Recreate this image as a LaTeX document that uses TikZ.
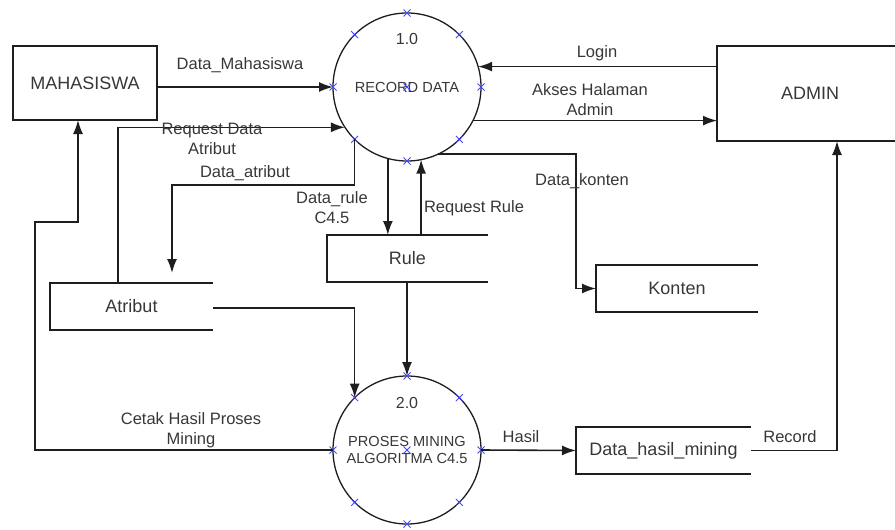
\documentclass[tikz,border=0pt]{standalone}
\usepackage{fontspec}
\setmainfont{Liberation Sans}
\usetikzlibrary{arrows.meta,calc}
\definecolor{ink}{RGB}{30,30,30}
\definecolor{txt}{RGB}{55,55,55}
\definecolor{cpt}{RGB}{70,70,255}
\tikzset{
  flow/.style={line width=1.6pt, draw=ink, -{Latex[length=14pt,width=10pt]}},
  wire/.style={line width=1.6pt, draw=ink},
  entity/.style={draw=ink, line width=1.6pt, rectangle, outer sep=0pt, inner sep=0pt,
    text=txt, font=\fontsize{18}{21}\selectfont},
  store/.style={rectangle, outer sep=0pt, inner sep=0pt, text=txt,
    font=\fontsize{18}{21}\selectfont},
  proc/.style={draw=ink, line width=1.3pt, circle, minimum size=148pt, outer sep=0pt,
    inner sep=0pt, text=txt, align=center, font=\fontsize{14.6}{18}\selectfont},
  flowlabel/.style={text=txt, align=center, inner sep=0pt, font=\fontsize{16.5}{20}\selectfont},
  cpmark/.style={draw=cpt, line width=0.8pt}
}
\newcommand{\cpx}[1]{\draw[cpmark] ($(#1)+(-3.5,-3.5)$) -- ($(#1)+(3.5,3.5)$) ($(#1)+(-3.5,3.5)$) -- ($(#1)+(3.5,-3.5)$);}
\begin{document}
\begin{tikzpicture}[x=1pt,y=-1pt]
\useasboundingbox (0,0) rectangle (895,530);
\clip (0,0) rectangle (895,530);

% external entities
\node[entity, minimum width=144pt, minimum height=74pt] (mhs) at (85,83) {MAHASISWA};
\node[entity, minimum width=190pt, minimum height=95pt] (adm) at (812,93.5) {};
\node[text=txt, font=\fontsize{18}{21}\selectfont] (admtxt) at (810,93) {ADMIN};

% processes
\node[proc] (p1) at (407,87) {RECORD DATA};
\node[flowlabel, font=\fontsize{16}{19}\selectfont] (p1num) at (407,39) {1.0};
\node[proc] (p2) at (407,450) {PROSES MINING\\[-1pt]ALGORITMA C4.5};
\node[flowlabel, font=\fontsize{16}{19}\selectfont] (p2num) at (407,403) {2.0};

% connection points on the process circles
\foreach \p in {p1,p2}{
  \foreach \a in {0,45,...,315}{ \cpx{\p.\a} }
  \cpx{\p.center}
}

% data stores (open on the right)
\node[store, minimum width=161pt, minimum height=47pt] (rule) at (407.5,258.5) {Rule};
\node[store, minimum width=163pt, minimum height=47pt] (atr) at (131.5,306.5) {Atribut};
\node[store, minimum width=162pt, minimum height=47pt] (kon) at (677,288.5) {Konten};
\node[store, minimum width=175pt, minimum height=47pt] (dhm) at (663.5,450.5) {Data\_hasil\_mining};
\foreach \s in {rule,atr,kon,dhm}{
  \draw[wire] (\s.north east) -- (\s.north west) -- (\s.south west) -- (\s.south east);
}

% helper points for bent connectors
\coordinate (rqstart) at ($(atr.north west)+(68,0)$);
\coordinate (atrin) at (172,273);
\coordinate (cbend) at (35,222);
\coordinate (mhsin) at ($(mhs.south west)+(65,0)$);
\coordinate (admin) at ($(adm.south west)+(120,0)$);

% data flows
\draw[flow] (mhs.east |- p1.west) -- (p1.west);
\draw[flow] (rqstart) |- (p1.213);
\draw[flow] (p1.225) -- (p1.225 |- 0,185) -| (atrin);
\draw[flow] (p1.-105) -- (p1.-105 |- rule.north);
\draw[flow] (rule.north -| p1.-79) -- (p1.-79);
\draw[flow] (p1.-65) -| ($(kon.west)+(-20,0)$) -- (kon.west);
\draw[flow] (adm.west |- p1.16) -- (p1.16);
\draw[flow] (p1.-27) -- (p1.-27 -| adm.west);
\draw[flow] (rule.south -| p2.north) -- (p2.north);
\draw[flow] (atr.east |- 0,308) -| (p2.135);
\draw[flow] (p2.west) -| (cbend) -| (mhsin);
\draw[flow] (p2.east) -- (dhm.west);
\draw[flow] (dhm.east) -| (admin);

% flow labels
\node[flowlabel] (l1) at (240,65) {Data\_Mahasiswa};
\node[flowlabel] (l2) at (212,139) {Request Data\\Atribut};
\node[flowlabel] (l3) at (597,53) {Login};
\node[flowlabel] (l4) at (590,100) {Akses Halaman\\Admin};
\node[flowlabel] (l5) at (245,173) {Data\_atribut};
\node[flowlabel] (l6) at (332,208) {Data\_rule\\C4.5};
\node[flowlabel] (l7) at (474,208) {Request Rule};
\node[flowlabel] (l8) at (582,181) {Data\_konten};
\node[flowlabel] (l9) at (191,430) {Cetak Hasil Proses\\Mining};
\node[flowlabel] (l10) at (521,437) {Hasil};
\node[flowlabel] (l11) at (790,437) {Record};
\end{tikzpicture}
\end{document}
